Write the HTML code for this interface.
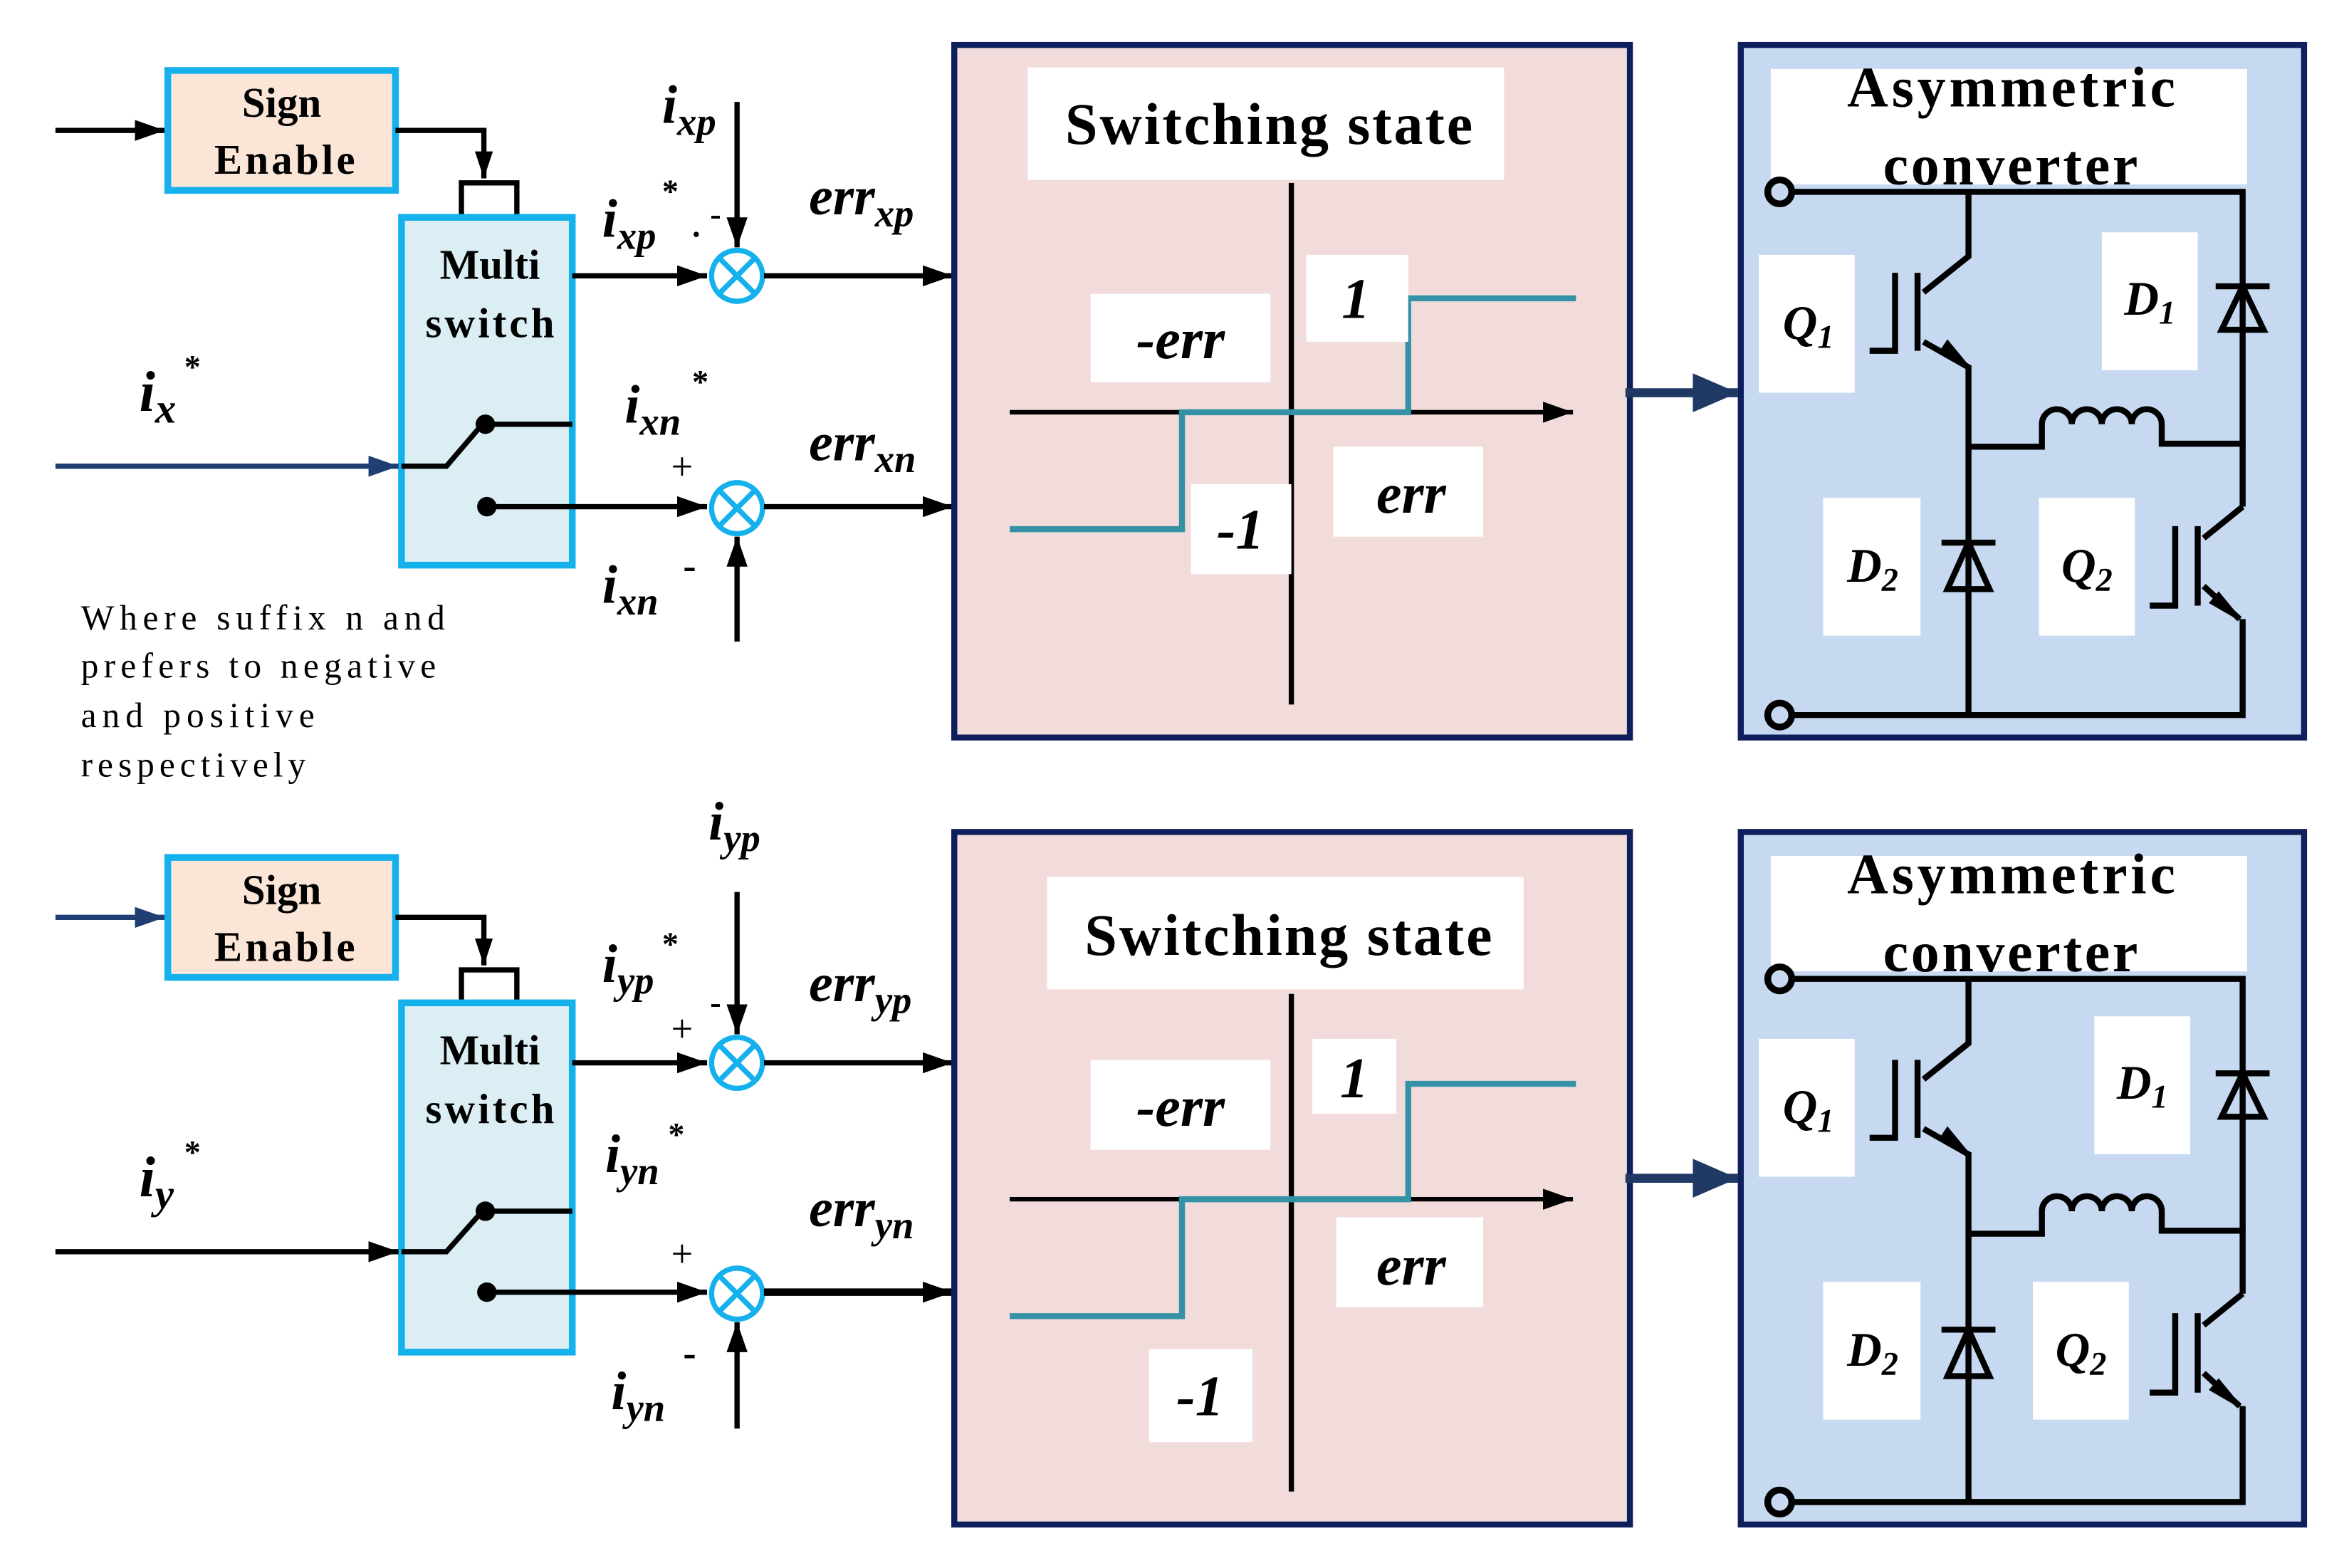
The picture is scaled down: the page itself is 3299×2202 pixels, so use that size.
<!DOCTYPE html>
<html><head><meta charset="utf-8"><style>
html,body{margin:0;padding:0;background:#fff;}
svg{display:block;}
text{font-family:"Liberation Serif",serif;}
.b{font-weight:bold;}
.bi{font-weight:bold;font-style:italic;}
</style></head><body>
<svg width="3299" height="2202" viewBox="0 0 1568 1046" preserveAspectRatio="none" xmlns="http://www.w3.org/2000/svg">
<defs>
<marker id="ak" viewBox="0 0 10 10" refX="10" refY="5" markerWidth="20" markerHeight="14" orient="auto" markerUnits="userSpaceOnUse" preserveAspectRatio="none"><path d="M0,0L10,5L0,10z" fill="#000"/></marker>
<marker id="ab" viewBox="0 0 10 10" refX="10" refY="5" markerWidth="20" markerHeight="14" orient="auto" markerUnits="userSpaceOnUse" preserveAspectRatio="none"><path d="M0,0L10,5L0,10z" fill="#1f3f73"/></marker>
<marker id="an" viewBox="0 0 10 10" refX="10" refY="5" markerWidth="30" markerHeight="26" orient="auto" markerUnits="userSpaceOnUse" preserveAspectRatio="none"><path d="M0,0L10,5L0,10z" fill="#1f3864"/></marker>
<marker id="ae" viewBox="0 0 10 10" refX="10" refY="5" markerWidth="18" markerHeight="12" orient="auto" markerUnits="userSpaceOnUse" preserveAspectRatio="none"><path d="M0,0L10,5L0,10z" fill="#000"/></marker>

<g id="circ" fill="none" stroke="#000" stroke-width="4">
  <path d="M1196,128H1497V296"/>
  <path d="M1196,477H1497V413"/>
  <path d="M1314,128V171L1284,195"/>
  <path d="M1280,182V234M1265,182V234H1248"/>
  <path d="M1284,228L1314,245V477"/>
  <path d="M1314,298H1363V283a10,10 0 0 1 20,0 a10,10 0 0 1 20,0 a10,10 0 0 1 20,0 a10,10 0 0 1 20,0V296H1497V338"/>
  <path d="M1497,338L1471,359"/>
  <path d="M1467,351V404M1452,351V404H1435"/>
  <path d="M1471,391L1495,413"/>
  <circle cx="1188" cy="128" r="8" stroke-width="4.5"/>
  <circle cx="1188" cy="477" r="8" stroke-width="4.5"/>
  <path d="M1479,191H1515M1497,191L1483,220H1511Z"/>
  <path d="M1296,362H1332M1314,362L1300,393H1328Z"/>
  <path d="M1314,245L1296,234L1300,228Z" fill="#000" stroke-width="2"/>
  <path d="M1495,413L1476,402L1481,396Z" fill="#000" stroke-width="2"/>
</g>
</defs>

<!-- ============ TOP ============ -->
<line x1="37" y1="87" x2="110" y2="87" stroke="#000" stroke-width="3.5" marker-end="url(#ak)"/>
<rect x="112" y="47" width="152" height="80" fill="#fbe5d6" stroke="#14b1ec" stroke-width="4.5"/>
<text x="188" y="78" font-size="28" class="b" text-anchor="middle">Sign</text>
<text x="190" y="116" font-size="28" class="b" text-anchor="middle" textLength="94">Enable</text>
<polyline points="264,87 323,87 323,119" fill="none" stroke="#000" stroke-width="3.5" marker-end="url(#ae)"/>
<polyline points="308,145 308,122 345,122 345,145" fill="none" stroke="#000" stroke-width="3.5"/>
<rect x="268" y="145" width="114" height="232" fill="#daeef3" stroke="#14b1ec" stroke-width="4.5"/>
<text x="327" y="186" font-size="28" class="b" text-anchor="middle">Multi</text>
<text x="327" y="225" font-size="28" class="b" text-anchor="middle" textLength="86">switch</text>
<line x1="37" y1="311" x2="266" y2="311" stroke="#1f3f73" stroke-width="3.5" marker-end="url(#ab)"/>
<polyline points="268,311 298,311 322,283" fill="none" stroke="#000" stroke-width="3.5"/>
<circle cx="324" cy="283" r="6.5" fill="#000"/>
<line x1="324" y1="283" x2="382" y2="283" stroke="#000" stroke-width="3.5"/>
<circle cx="325" cy="338" r="6.5" fill="#000"/>
<line x1="325" y1="338" x2="472" y2="338" stroke="#000" stroke-width="3.5" marker-end="url(#ak)"/>
<line x1="382" y1="184" x2="472" y2="184" stroke="#000" stroke-width="3.5" marker-end="url(#ak)"/>
<g fill="none" stroke="#14b1ec" stroke-width="3.5">
<circle cx="492" cy="184" r="17"/><path d="M480,172L504,196M504,172L480,196"/>
<circle cx="492" cy="339" r="17"/><path d="M480,327L504,351M504,327L480,351"/>
</g>
<line x1="492" y1="68" x2="492" y2="165" stroke="#000" stroke-width="3.5" marker-end="url(#ak)"/>
<line x1="492" y1="428" x2="492" y2="358" stroke="#000" stroke-width="3.5" marker-end="url(#ak)"/>
<line x1="510" y1="184" x2="636" y2="184" stroke="#000" stroke-width="3.5" marker-end="url(#ak)"/>
<line x1="510" y1="338" x2="636" y2="338" stroke="#000" stroke-width="3.5" marker-end="url(#ak)"/>
<text x="442" y="82" font-size="36" class="bi">i<tspan font-size="26" dy="8">xp</tspan></text>
<text x="402" y="158" font-size="36" class="bi">i<tspan font-size="26" dy="8">xp</tspan></text>
<text x="442" y="135" font-size="22" class="b">*</text>
<text x="462" y="158" font-size="22" class="b">.</text><text x="474" y="150" font-size="22" class="b">-</text>
<text x="540" y="143" font-size="36" class="bi">err<tspan font-size="26" dy="8">xp</tspan></text>
<text x="417" y="282" font-size="36" class="bi">i<tspan font-size="26" dy="8">xn</tspan></text>
<text x="462" y="262" font-size="22" class="b">*</text>
<text x="448" y="320" font-size="26">+</text>
<text x="540" y="307" font-size="36" class="bi">err<tspan font-size="26" dy="8">xn</tspan></text>
<text x="402" y="402" font-size="36" class="bi">i<tspan font-size="26" dy="8">xn</tspan></text>
<text x="456" y="386" font-size="26" class="b">-</text>
<text x="93" y="274" font-size="38" class="bi">i<tspan font-size="28" dy="8">x</tspan></text>
<text x="123" y="252" font-size="22" class="b">*</text>
<g font-size="23.5">
<text x="54" y="420" textLength="243">Where suffix n and</text>
<text x="54" y="452" textLength="237">prefers to negative</text>
<text x="54" y="485" textLength="156">and positive</text>
<text x="54" y="518" textLength="150">respectively</text>
</g>

<!-- Switching top -->
<rect x="637" y="30" width="451" height="462" fill="#f2dcdb" stroke="#0d1f5c" stroke-width="4"/>
<rect x="686" y="45" width="318" height="75" fill="#fff"/>
<text x="711" y="96" font-size="39" class="b" textLength="272">Switching state</text>
<line x1="862" y1="122" x2="862" y2="470" stroke="#000" stroke-width="3.5"/>
<line x1="674" y1="275" x2="1050" y2="275" stroke="#000" stroke-width="3" marker-end="url(#ak)"/>
<polyline points="674,353 789,353 789,275 940,275 940,199 1052,199" fill="none" stroke="#3592a6" stroke-width="4"/>
<rect x="728" y="196" width="120" height="59" fill="#fff"/><text x="788" y="239" font-size="38" class="bi" text-anchor="middle">-err</text>
<rect x="872" y="170" width="68" height="58" fill="#fff"/><text x="905" y="212" font-size="38" class="bi" text-anchor="middle">1</text>
<rect x="890" y="298" width="100" height="60" fill="#fff"/><text x="942" y="342" font-size="38" class="bi" text-anchor="middle">err</text>
<rect x="795" y="323" width="67" height="60" fill="#fff"/><text x="828" y="366" font-size="38" class="bi" text-anchor="middle">-1</text>
<line x1="1085" y1="262" x2="1160" y2="262" stroke="#1f3864" stroke-width="6" marker-end="url(#an)"/>

<!-- Converter top -->
<rect x="1162" y="30" width="376" height="462" fill="#c6d9f0" stroke="#0d1f5c" stroke-width="4"/>
<rect x="1182" y="46" width="318" height="77" fill="#fff"/>
<text x="1233" y="71" font-size="38" class="b" textLength="219">Asymmetric</text>
<text x="1257" y="123" font-size="38" class="b" textLength="170">converter</text>
<use href="#circ"/>
<rect x="1174" y="170" width="64" height="92" fill="#fff"/><text x="1190" y="226" font-size="32" class="bi">Q<tspan font-size="22" dy="6">1</tspan></text>
<rect x="1403" y="155" width="64" height="92" fill="#fff"/><text x="1418" y="210" font-size="32" class="bi">D<tspan font-size="22" dy="6">1</tspan></text>
<rect x="1217" y="332" width="65" height="92" fill="#fff"/><text x="1233" y="388" font-size="32" class="bi">D<tspan font-size="22" dy="6">2</tspan></text>
<rect x="1361" y="332" width="64" height="92" fill="#fff"/><text x="1376" y="388" font-size="32" class="bi">Q<tspan font-size="22" dy="6">2</tspan></text>

<!-- ============ BOTTOM ============ -->
<line x1="37" y1="612" x2="110" y2="612" stroke="#1f3f73" stroke-width="3.5" marker-end="url(#ab)"/>
<rect x="112" y="572" width="152" height="80" fill="#fbe5d6" stroke="#14b1ec" stroke-width="4.5"/>
<text x="188" y="603" font-size="28" class="b" text-anchor="middle">Sign</text>
<text x="190" y="641" font-size="28" class="b" text-anchor="middle" textLength="94">Enable</text>
<polyline points="264,612 323,612 323,644" fill="none" stroke="#000" stroke-width="3.5" marker-end="url(#ae)"/>
<polyline points="308,669 308,647 345,647 345,669" fill="none" stroke="#000" stroke-width="3.5"/>
<rect x="268" y="669" width="114" height="233" fill="#daeef3" stroke="#14b1ec" stroke-width="4.5"/>
<text x="327" y="710" font-size="28" class="b" text-anchor="middle">Multi</text>
<text x="327" y="749" font-size="28" class="b" text-anchor="middle" textLength="86">switch</text>
<line x1="37" y1="835" x2="266" y2="835" stroke="#000" stroke-width="3.5" marker-end="url(#ak)"/>
<polyline points="268,835 298,835 322,808" fill="none" stroke="#000" stroke-width="3.5"/>
<circle cx="324" cy="808" r="6.5" fill="#000"/>
<line x1="324" y1="808" x2="382" y2="808" stroke="#000" stroke-width="3.5"/>
<circle cx="325" cy="862" r="6.5" fill="#000"/>
<line x1="325" y1="862" x2="472" y2="862" stroke="#000" stroke-width="3.5" marker-end="url(#ak)"/>
<line x1="382" y1="709" x2="472" y2="709" stroke="#000" stroke-width="3.5" marker-end="url(#ak)"/>
<g fill="none" stroke="#14b1ec" stroke-width="3.5">
<circle cx="492" cy="709" r="17"/><path d="M480,697L504,721M504,697L480,721"/>
<circle cx="492" cy="863" r="17"/><path d="M480,851L504,875M504,851L480,875"/>
</g>
<line x1="492" y1="595" x2="492" y2="690" stroke="#000" stroke-width="3.5" marker-end="url(#ak)"/>
<line x1="492" y1="953" x2="492" y2="882" stroke="#000" stroke-width="3.5" marker-end="url(#ak)"/>
<line x1="510" y1="709" x2="636" y2="709" stroke="#000" stroke-width="3.5" marker-end="url(#ak)"/>
<line x1="510" y1="862" x2="636" y2="862" stroke="#000" stroke-width="5" marker-end="url(#ak)"/>
<text x="473" y="560" font-size="36" class="bi">i<tspan font-size="26" dy="8">yp</tspan></text>
<text x="402" y="655" font-size="36" class="bi">i<tspan font-size="26" dy="8">yp</tspan></text>
<text x="442" y="637" font-size="22" class="b">*</text>
<text x="448" y="695" font-size="26">+</text><text x="474" y="676" font-size="22" class="b">-</text>
<text x="540" y="668" font-size="36" class="bi">err<tspan font-size="26" dy="8">yp</tspan></text>
<text x="404" y="782" font-size="36" class="bi">i<tspan font-size="26" dy="8">yn</tspan></text>
<text x="446" y="764" font-size="22" class="b">*</text>
<text x="448" y="845" font-size="26">+</text>
<text x="540" y="818" font-size="36" class="bi">err<tspan font-size="26" dy="8">yn</tspan></text>
<text x="408" y="940" font-size="36" class="bi">i<tspan font-size="26" dy="8">yn</tspan></text>
<text x="456" y="911" font-size="26" class="b">-</text>
<text x="93" y="798" font-size="38" class="bi">i<tspan font-size="28" dy="8">y</tspan></text>
<text x="123" y="776" font-size="22" class="b">*</text>

<!-- Switching bottom -->
<rect x="637" y="555" width="451" height="462" fill="#f2dcdb" stroke="#0d1f5c" stroke-width="4"/>
<rect x="699" y="585" width="318" height="75" fill="#fff"/>
<text x="724" y="637" font-size="39" class="b" textLength="272">Switching state</text>
<line x1="862" y1="663" x2="862" y2="995" stroke="#000" stroke-width="3.5"/>
<line x1="674" y1="800" x2="1050" y2="800" stroke="#000" stroke-width="3" marker-end="url(#ak)"/>
<polyline points="674,878 789,878 789,800 940,800 940,723 1052,723" fill="none" stroke="#3592a6" stroke-width="4"/>
<rect x="728" y="707" width="120" height="60" fill="#fff"/><text x="788" y="751" font-size="38" class="bi" text-anchor="middle">-err</text>
<rect x="876" y="693" width="56" height="50" fill="#fff"/><text x="904" y="732" font-size="38" class="bi" text-anchor="middle">1</text>
<rect x="892" y="812" width="98" height="60" fill="#fff"/><text x="942" y="857" font-size="38" class="bi" text-anchor="middle">err</text>
<rect x="767" y="900" width="69" height="62" fill="#fff"/><text x="801" y="944" font-size="38" class="bi" text-anchor="middle">-1</text>
<line x1="1085" y1="786" x2="1160" y2="786" stroke="#1f3864" stroke-width="6" marker-end="url(#an)"/>

<!-- Converter bottom -->
<rect x="1162" y="555" width="376" height="462" fill="#c6d9f0" stroke="#0d1f5c" stroke-width="4"/>
<rect x="1182" y="571" width="318" height="77" fill="#fff"/>
<text x="1233" y="596" font-size="38" class="b" textLength="219">Asymmetric</text>
<text x="1257" y="648" font-size="38" class="b" textLength="170">converter</text>
<use href="#circ" transform="translate(0,525)"/>
<rect x="1174" y="693" width="64" height="92" fill="#fff"/><text x="1190" y="749" font-size="32" class="bi">Q<tspan font-size="22" dy="6">1</tspan></text>
<rect x="1398" y="678" width="64" height="92" fill="#fff"/><text x="1413" y="733" font-size="32" class="bi">D<tspan font-size="22" dy="6">1</tspan></text>
<rect x="1217" y="855" width="65" height="92" fill="#fff"/><text x="1233" y="911" font-size="32" class="bi">D<tspan font-size="22" dy="6">2</tspan></text>
<rect x="1357" y="855" width="64" height="92" fill="#fff"/><text x="1372" y="911" font-size="32" class="bi">Q<tspan font-size="22" dy="6">2</tspan></text>
</svg>
</body></html>
